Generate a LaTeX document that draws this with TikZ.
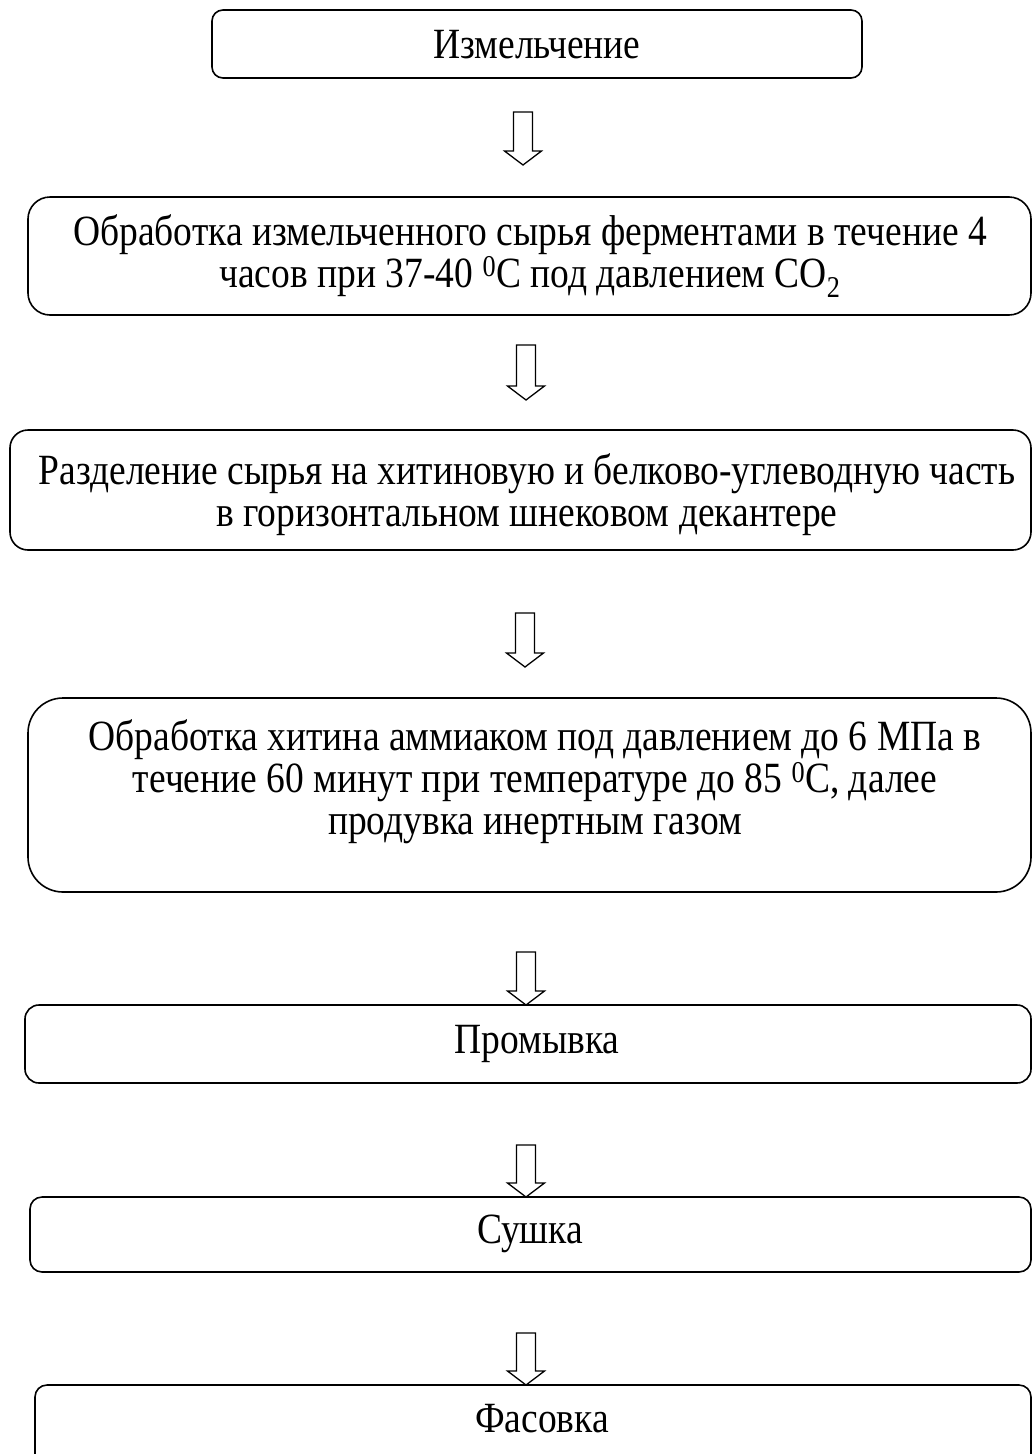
\documentclass[tikz,border=0pt]{standalone}
\usepackage{fontspec}
\setmainfont{Liberation Serif}
\usetikzlibrary{calc}
\tikzset{
  stepbox/.style={draw=black, line width=1.6pt, fill=none},
  steptext/.style={align=center, inner sep=0pt, yscale=1.15, transform shape, font=\fontsize{37.5}{36.5}\selectfont},
  blockarr/.style={draw=black, line width=1.3pt, fill=white, line join=miter}
}
\newcommand\blockarrow[2]{%
  \draw[blockarr] let \p1=(#1), \p2=(#2) in
    (\x1-9.5pt,\y1) -- (\x1+9.5pt,\y1) -- (\x1+9.5pt,\y2+14pt) -- (\x1+18.5pt,\y2+14pt)
    -- (\x1,\y2) -- (\x1-18.5pt,\y2+14pt) -- (\x1-9.5pt,\y2+14pt) -- cycle;}
\begin{document}
\begin{tikzpicture}[x=1pt,y=-1pt]
\useasboundingbox (0,0) rectangle (1032,1454);
% boxes
\draw[stepbox, rounded corners=11pt] (212,10) rectangle (862,78);
\draw[stepbox, rounded corners=22pt] (28,197) rectangle (1031,315);
\draw[stepbox, rounded corners=18pt] (10,430) rectangle (1031,550);
\draw[stepbox, rounded corners=35pt] (28,698) rectangle (1031,892);
\draw[stepbox, rounded corners=14pt] (25,1005) rectangle (1031,1083);
\draw[stepbox, rounded corners=12pt] (30,1197) rectangle (1031,1272);
\draw[stepbox, rounded corners=12pt] (35,1385) rectangle (1031,1480);
% texts
\node[steptext] (t1) at (537,45) {Измельчение};
\node[steptext] (t2) at (530,256) {Обработка измельченного сырья ферментами в течение 4\\часов при 37-40 \textsuperscript{0}C под давлением CO\textsubscript{2}};
\node[steptext] (t3) at (527,495) {Разделение сырья на хитиновую и белково-углеводную часть\\в горизонтальном шнековом декантере};
\node[steptext] (t4) at (535,782) {Обработка хитина аммиаком под давлением до 6 МПа в\\течение 60 минут при температуре до 85 \textsuperscript{0}C, далее\\продувка инертным газом};
\node[steptext] (t5) at (537,1044) {Промывка};
\node[steptext] (t6) at (530,1234) {Сушка};
\node[steptext] (t7) at (542,1419) {Фасовка};
% arrow endpoints
\coordinate (a1s) at (523,112); \coordinate (a1e) at (523,165);
\coordinate (a2s) at (526,345); \coordinate (a2e) at (526,400);
\coordinate (a3s) at (525,613); \coordinate (a3e) at (525,667);
\coordinate (a4s) at (526,952); \coordinate (a4e) at (526,1005);
\coordinate (a5s) at (526,1145); \coordinate (a5e) at (526,1197);
\coordinate (a6s) at (526,1333); \coordinate (a6e) at (526,1385);
\blockarrow{a1s}{a1e}
\blockarrow{a2s}{a2e}
\blockarrow{a3s}{a3e}
\blockarrow{a4s}{a4e}
\blockarrow{a5s}{a5e}
\blockarrow{a6s}{a6e}
\end{tikzpicture}
\end{document}
